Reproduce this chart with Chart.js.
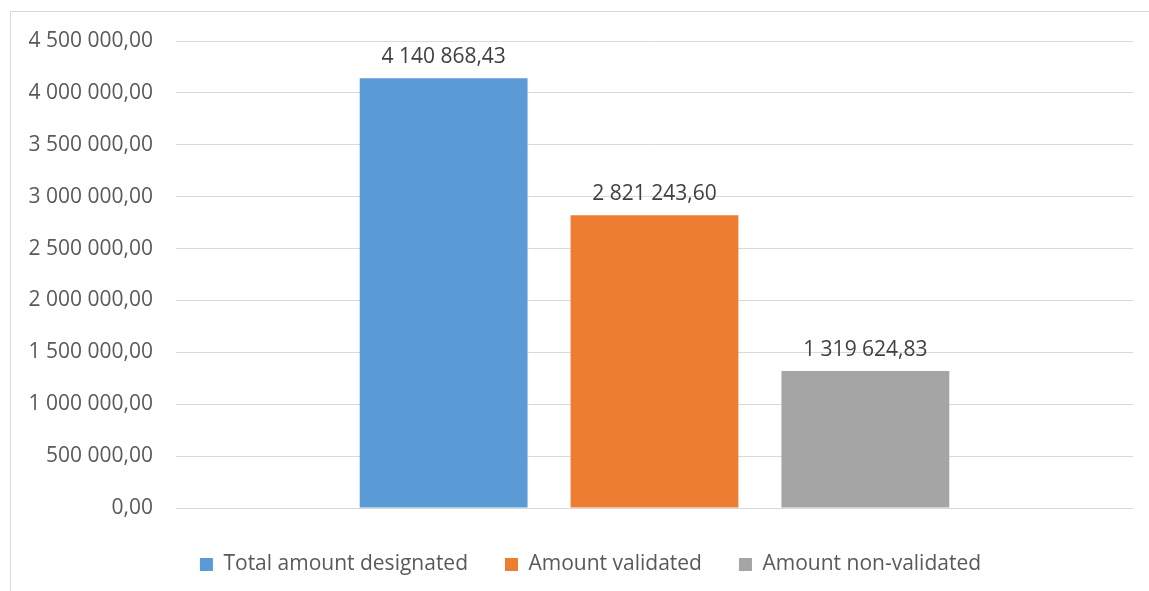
<!DOCTYPE html>
<html>
<head>
<meta charset="utf-8">
<script src="https://cdn.jsdelivr.net/npm/chart.js@4.4.1/dist/chart.umd.min.js"></script>
<style>
  html, body { margin: 0; padding: 0; background: #fff; }
  #wrap { position: relative; width: 1149px; height: 591px; overflow: hidden; }
  #frame { position: absolute; left: 10px; top: 11px; width: 1200px; height: 700px;
           border-left: 1px solid #d9d9d9; border-top: 1px solid #d9d9d9; }
  canvas { position: absolute; left: 0; top: 0; }
</style>
</head>
<body>
<div id="wrap">
  <div id="frame"></div>
  <canvas id="chart" width="1149" height="591"></canvas>
</div>
<script>
const categories = [''];
const seriesNames = ['Total amount designated', 'Amount validated', 'Amount non-validated'];
const seriesValues = [4140868.43, 2821243.60, 1319624.83];
const seriesColors = ['#5B9BD5', '#ED7D31', '#A5A5A5'];

const FONT = "'Open Sans', sans-serif";

function formatAmount(v) {
  const parts = Number(v).toFixed(2).split('.');
  const whole = parts[0].replace(/\B(?=(\d{3})+(?!\d))/g, ' ');
  return whole + ',' + parts[1];
}

// draw the value above each bar
const valueLabels = {
  id: 'valueLabels',
  afterDatasetsDraw(chart) {
    const ctx = chart.ctx;
    ctx.save();
    ctx.font = '21px ' + FONT;
    ctx.fillStyle = '#404040';
    ctx.textAlign = 'center';
    ctx.textBaseline = 'middle';
    chart.data.datasets.forEach((ds, i) => {
      chart.getDatasetMeta(i).data.forEach((bar, j) => {
        ctx.fillText(formatAmount(ds.data[j]), bar.x, bar.y - 21);
      });
    });
    ctx.restore();
  }
};

// legend sits a bit right of the canvas centre in the original
const legendShift = {
  id: 'legendShift',
  afterLayout(chart) {
    chart.legend.left = 48;
  }
};

const datasets = seriesNames.map((name, i) => ({
  label: name,
  data: [seriesValues[i]],
  backgroundColor: seriesColors[i],
  borderWidth: 0,
  categoryPercentage: 0.661,
  barPercentage: 0.796
}));

new Chart(document.getElementById('chart').getContext('2d'), {
  type: 'bar',
  data: { labels: categories, datasets: datasets },
  options: {
    responsive: false,
    animation: false,
    layout: { padding: { left: 10, right: 16, top: 41, bottom: 6 } },
    scales: {
      x: {
        ticks: { display: false },
        grid: { display: false },
        border: { display: false },
        afterFit: scale => { scale.height = 9; }
      },
      y: {
        min: 0,
        max: 4500000,
        ticks: {
          stepSize: 500000,
          padding: 23,
          color: '#595959',
          font: { family: FONT, size: 21 },
          callback: v => formatAmount(v)
        },
        grid: { color: '#d9d9d9', lineWidth: 1, drawTicks: false },
        border: { display: false },
        afterFit: scale => { scale.width = 166; }
      }
    },
    plugins: {
      legend: {
        position: 'bottom',
        labels: {
          boxWidth: 13,
          boxHeight: 13,
          padding: 37,
          color: '#595959',
          font: { family: FONT, size: 21 }
        }
      },
      tooltip: { enabled: false }
    }
  },
  plugins: [valueLabels, legendShift]
});
</script>
</body>
</html>
